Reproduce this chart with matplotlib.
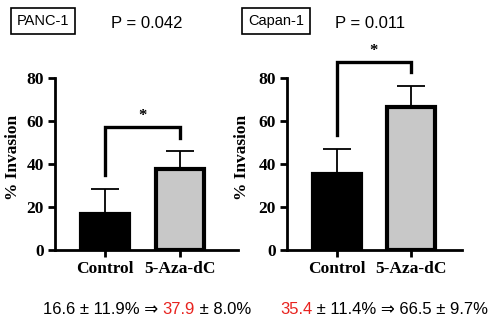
import matplotlib.pyplot as plt

# ---------------- data ---------------- #
groups = ["Control", "5-Aza-dC"]
panc_mean = [16.6, 37.9]
panc_sd = [11.9, 8.0]
capan_mean = [35.4, 66.5]
capan_sd = [11.4, 9.7]
yticks = [0, 20, 40, 60, 80]

SERIF = "Liberation Serif"
SANS = ["Liberation Sans", "DejaVu Sans"]

fig = plt.figure(figsize=(4.91, 3.21), dpi=100)

H = 321.0
W = 491.0


def make_axes(x0, x1, xlim):
    y0, y1 = 250, 78
    return fig.add_axes([x0 / W, (H - y0) / H, (x1 - x0) / W, (y0 - y1) / H]), xlim


def draw_panel(ax, xlim, means, sds, bracket, label_x):
    pos = [0, 1]
    ax.bar(pos, means, width=0.64, color=["black", "#c8c8c8"],
           edgecolor="black", linewidth=3, zorder=2)
    for p, m, s in zip(pos, means, sds):
        ax.errorbar(p, m, yerr=[[0], [s]], color="black", lw=1.3,
                    capsize=10, capthick=1.3, zorder=1)
    ax.set_xlim(*xlim)
    ax.set_ylim(0, 80)
    ax.set_yticks(yticks)
    ax.set_xticks(pos)
    ax.set_xticklabels(groups)
    for side in ("top", "right"):
        ax.spines[side].set_visible(False)
    ax.spines["left"].set_linewidth(2)
    ax.spines["bottom"].set_linewidth(2)
    ax.tick_params(width=2, length=5, direction="out", pad=3)
    for lbl in ax.get_xticklabels() + ax.get_yticklabels():
        lbl.set_fontfamily(SERIF)
        lbl.set_fontweight("bold")
        lbl.set_fontsize(12.5)
    ax.set_ylabel("% Invasion", fontfamily=SERIF, fontweight="bold", fontsize=12.5)
    ax.yaxis.set_label_coords(label_x, 0.54)

    # significance bracket
    left_y, right_y, top_y = bracket
    ax.plot([0, 0, 1, 1], [left_y, top_y, top_y, right_y], color="black",
            lw=2.4, clip_on=False, solid_joinstyle="miter")
    ax.text(0.5, top_y + 1.5, "*", ha="center", va="bottom", fontsize=12,
            fontfamily=SERIF, fontweight="bold", clip_on=False)


ax1, xl1 = make_axes(55, 238, (-0.667, 1.773))
draw_panel(ax1, xl1, panc_mean, panc_sd, (35, 52, 57), -0.186)

ax2, xl2 = make_axes(287, 462, (-0.676, 1.69))
draw_panel(ax2, xl2, capan_mean, capan_sd, (53.5, 83, 87.5), -0.21)

# ---------------- headers ---------------- #
box = dict(boxstyle="square,pad=0.4", facecolor="white", edgecolor="black", lw=1.2)
fig.text(43 / W, 1 - 21 / H, "PANC-1", ha="center", va="center",
         fontsize=10.5, family=SANS, bbox=box)
fig.text(147 / W, 1 - 23 / H, "P = 0.042", ha="center", va="center",
         fontsize=12, family=SANS)
fig.text(276 / W, 1 - 21 / H, "Capan-1", ha="center", va="center",
         fontsize=10.5, family=SANS, bbox=box)
fig.text(370 / W, 1 - 23 / H, "P = 0.011", ha="center", va="center",
         fontsize=12, family=SANS)


# ---------------- bottom summary ---------------- #
def colored_line(x_px, y_px, parts):
    fig.canvas.draw()
    renderer = fig.canvas.get_renderer()
    x = x_px
    for txt, col in parts:
        t = fig.text(x / W, 1 - y_px / H, txt, color=col, fontsize=12,
                     family=SANS, ha="left", va="center")
        bb = t.get_window_extent(renderer)
        x += bb.width


colored_line(43, 310, [("16.6 \u00b1 11.9% \u21d2 ", "black"),
                       ("37.9", "#e8231f"),
                       (" \u00b1 8.0%", "black")])
colored_line(280, 310, [("35.4", "#e8231f"),
                        (" \u00b1 11.4% \u21d2 66.5 \u00b1 9.7%", "black")])

fig.savefig("out.png", dpi=100)
